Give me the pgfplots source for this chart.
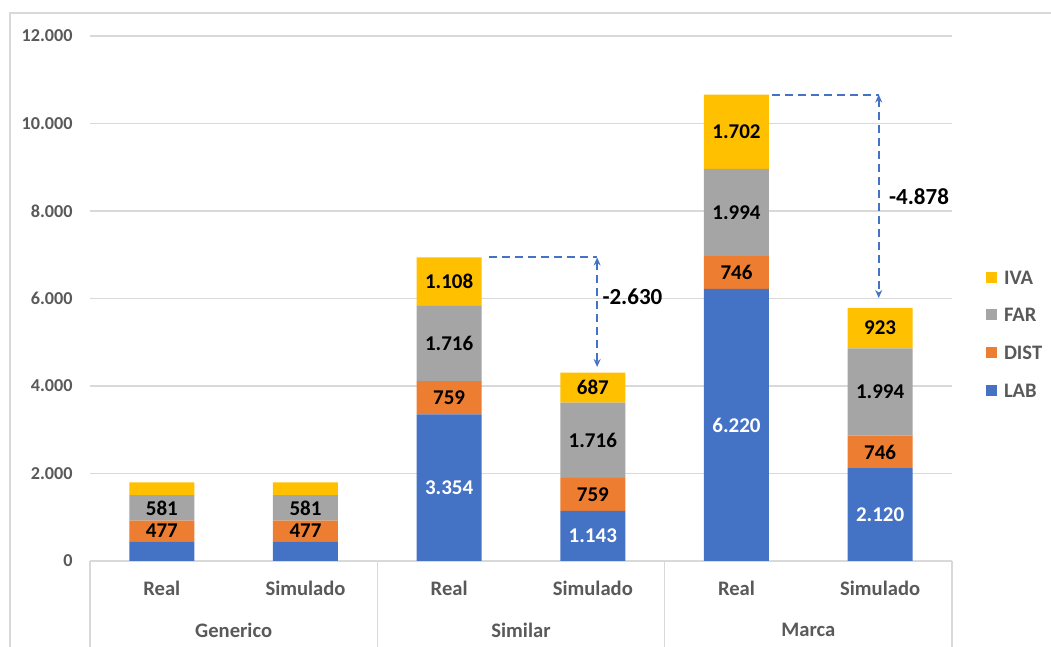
\documentclass[border=0pt]{standalone}
\usepackage{pgfplots}
\usepackage{pgfplotstable}
\pgfplotsset{compat=1.18}
\usepackage{fontspec}
\setmainfont{Carlito}
\usetikzlibrary{arrows.meta}

\definecolor{lab}{HTML}{4472C4}
\definecolor{dist}{HTML}{ED7D31}
\definecolor{far}{HTML}{A5A5A5}
\definecolor{iva}{HTML}{FFC000}
\definecolor{txtgray}{HTML}{595959}
\definecolor{linegray}{HTML}{D9D9D9}

\newcommand{\fs}[1]{\fontsize{#1}{#1}\selectfont}

% columns: x = bar position (0/1 Generico, 2/3 Similar, 4/5 Marca; Real then Simulado)
%          v = segment value
\pgfplotstableread{
x v
0 447
1 447
2 3354
3 1143
4 6220
5 2120
}\tabLAB
\pgfplotstableread{
x v
0 477
1 477
2 759
3 759
4 746
5 746
}\tabDIST
\pgfplotstableread{
x v
0 581
1 581
2 1716
3 1716
4 1994
5 1994
}\tabFAR
\pgfplotstableread{
x v
0 290
1 290
2 1108
3 687
4 1702
5 923
}\tabIVA

% segment height in pt (axis: 262.5pt for 12000 units), used to skip thin segments
\pgfplotsset{
  segment height/.code={%
    \begingroup
    \pgfkeys{/pgf/fpu=true,/pgf/fpu/output format=fixed}%
    \pgfmathparse{0.021875*\pgfplotspointmeta}%
    \global\let\segheight\pgfmathresult
    \endgroup
  },
  segment/.style={fill=#1, draw=none, nodes near coords},
  % thin segments (below 600) carry no label
  skip thin/.style={nodes near coords={%
      \ifdim\segheight pt>13pt \pgfmathprintnumber{\pgfplotspointmeta}\fi}},
}

\begin{document}
\begin{tikzpicture}
% outer chart frame
\draw[linegray, line width=0.75pt] (5pt,0pt) -- (5pt,317pt) -- (525.5pt,317pt);

\begin{axis}[
  at={(45pt,43pt)}, anchor=south west,
  scale only axis, width=431pt, height=262.5pt,
  clip=false,
  ybar stacked, bar width=32.5pt,
  xmin=-0.5, xmax=5.5, ymin=0, ymax=12000,
  xtick={0,...,5},
  xticklabels={Real,Simulado,Real,Simulado,Real,Simulado},
  ytick={0,2000,...,12000},
  scaled y ticks=false,
  /pgf/number format/1000 sep={.},
  /pgf/number format/assume math mode=true,
  yticklabel style={font=\bfseries\fs{9.1}, text=txtgray, inner sep=0pt, anchor=east, xshift=-8.5pt},
  xticklabel style={font=\bfseries\fs{10.3}, text=txtgray, inner sep=0pt, anchor=center, yshift=-13.5pt},
  ymajorgrids, grid style={linegray, line width=0.75pt},
  axis line style={draw=none},
  tick style={draw=none},
  point meta=explicit,
  every node near coord/.append style={/pgfplots/segment height,
      font=\bfseries\fs{10.5}, anchor=center},
  legend image code/.code={\fill[#1] (0pt,-2.75pt) rectangle (5.5pt,2.75pt);},
  reverse legend,
  legend cell align=left,
  legend style={at={(1.039,0.433)}, anchor=west, draw=none, fill=none,
      inner sep=0pt, row sep=11.8pt, column sep=3.5pt,
      font=\bfseries\fs{10.3}, text=txtgray,
      nodes={inner sep=0pt, text height=7pt, text depth=0pt}},
]
\addplot[segment=lab, skip thin, every node near coord/.append style={text=white}]
  table[x=x, y=v, meta=v] {\tabLAB};
\addplot[segment=dist, every node near coord/.append style={text=black}]
  table[x=x, y=v, meta=v] {\tabDIST};
\addplot[segment=far, every node near coord/.append style={text=black}]
  table[x=x, y=v, meta=v] {\tabFAR};
\addplot[segment=iva, skip thin, every node near coord/.append style={text=black}]
  table[x=x, y=v, meta=v] {\tabIVA};
\legend{LAB,DIST,FAR,IVA}

% category separators below the axis
\foreach \s in {-0.5,1.5,3.5,5.5}{
  \edef\tmp{\noexpand\draw[linegray, line width=0.75pt] (axis cs:\s,0) -- ([yshift=-43pt]axis cs:\s,0);}\tmp
}
% group names
\node[font=\bfseries\fs{10.3}, text=txtgray, inner sep=0pt] at ([yshift=-34.5pt]axis cs:0.5,0) {Generico};
\node[font=\bfseries\fs{10.3}, text=txtgray, inner sep=0pt] at ([yshift=-34.5pt]axis cs:2.5,0) {Similar};
\node[font=\bfseries\fs{10.3}, text=txtgray, inner sep=0pt] at ([yshift=-34.5pt]axis cs:4.5,0) {Marca};

% differences between real and simulated totals
\draw[lab, line width=1pt, dash pattern=on 4pt off 2.5pt]
  (axis cs:2.28,6937) -- (axis cs:3.03,6937);
\draw[lab, line width=1pt, dash pattern=on 4pt off 2.5pt,
      {Stealth[open,length=4pt,width=3.5pt]}-{Stealth[open,length=4pt,width=3.5pt]}]
  (axis cs:3.03,6937) -- (axis cs:3.03,4434);
\node[font=\bfseries\fs{11.5}, anchor=west, inner sep=0pt] at ([xshift=2.5pt]axis cs:3.03,6034) {-2.630};

\draw[lab, line width=1pt, dash pattern=on 4pt off 2.5pt]
  (axis cs:4.25,10662) -- (axis cs:4.99,10662);
\draw[lab, line width=1pt, dash pattern=on 4pt off 2.5pt,
      {Stealth[open,length=4pt,width=3.5pt]}-{Stealth[open,length=4pt,width=3.5pt]}]
  (axis cs:4.99,10662) -- (axis cs:4.99,6011);
\node[font=\bfseries\fs{11.5}, anchor=west, inner sep=0pt] at ([xshift=5pt]axis cs:4.99,8320) {-4.878};
\end{axis}

\pgfresetboundingbox
\path (0pt,0pt) rectangle (525.5pt,323.5pt);
\end{tikzpicture}
\end{document}
